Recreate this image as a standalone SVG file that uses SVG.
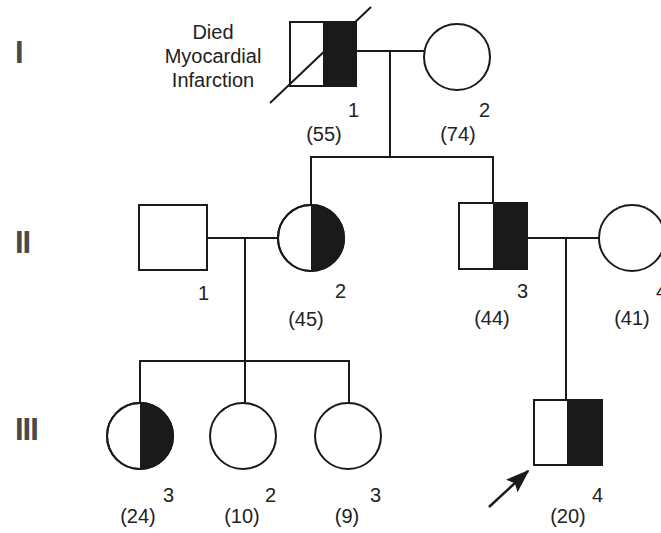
<svg xmlns="http://www.w3.org/2000/svg" width="661" height="533" viewBox="0 0 661 533">
<style>
.s{fill:#fff;stroke:#1a1a1a;stroke-width:2}
.f{fill:#1a1a1a;stroke:none}
.o{fill:none;stroke:#1a1a1a;stroke-width:2}
.l{fill:none;stroke:#1a1a1a;stroke-width:2}
text{font-family:"Liberation Sans",Arial,sans-serif;font-size:20px;fill:#222}
.r{font-size:31px;font-weight:bold;fill:#4a4a4a;letter-spacing:-1px}
.n{text-anchor:end}
.p{text-anchor:middle}
</style>
<defs>
<marker id="ah" markerWidth="24" markerHeight="17" refX="22" refY="8.5" orient="auto" markerUnits="userSpaceOnUse" viewBox="0 0 24 17">
<path d="M0,0 L24,8.5 L0,17 L4,8.5 Z" fill="#1a1a1a"/>
</marker>
</defs>
<rect width="661" height="533" fill="#fff"/>
<g id="gen-labels">
<text class="r" x="15" y="63">I</text>
<text class="r" x="15" y="253">II</text>
<text class="r" x="15" y="440">III</text>
</g>
<g id="connectors">
<line class="l" x1="356" y1="51" x2="424" y2="51"/>
<line class="l" x1="390" y1="51" x2="390" y2="157"/>
<line class="l" x1="311" y1="157" x2="493" y2="157"/>
<line class="l" x1="311" y1="156" x2="311" y2="205"/>
<line class="l" x1="493" y1="156" x2="493" y2="203"/>
<line class="l" x1="207" y1="238" x2="278" y2="238"/>
<line class="l" x1="245" y1="238" x2="245" y2="361"/>
<line class="l" x1="140" y1="361" x2="349" y2="361"/>
<line class="l" x1="140" y1="360" x2="140" y2="403"/>
<line class="l" x1="245" y1="360" x2="245" y2="403"/>
<line class="l" x1="349" y1="360" x2="349" y2="403"/>
<line class="l" x1="527" y1="238" x2="599" y2="238"/>
<line class="l" x1="566" y1="238" x2="566" y2="400"/>
</g>
<g id="I-1">
<rect class="s" x="290" y="22" width="66" height="64"/>
<rect class="f" x="323" y="22" width="33" height="64"/>
<rect class="o" x="290" y="22" width="66" height="64"/>
<line class="l" x1="270" y1="103" x2="371" y2="7"/>
<text x="213" y="39" class="p">Died</text>
<text x="213" y="63" class="p">Myocardial</text>
<text x="213" y="87" class="p">Infarction</text>
<text class="n" x="359" y="117">1</text>
<text class="p" x="324" y="141">(55)</text>
</g>
<g id="I-2">
<circle class="s" cx="457" cy="57" r="33"/>
<text class="n" x="490" y="117">2</text>
<text class="p" x="458" y="141">(74)</text>
</g>
<g id="II-1">
<rect class="s" x="139" y="205" width="68" height="65"/>
<text class="n" x="209" y="300">1</text>
</g>
<g id="II-2">
<circle class="s" cx="311" cy="238" r="33"/>
<path class="f" d="M311,205 A33,33 0 0 1 311,271 Z"/>
<circle class="o" cx="311" cy="238" r="33"/>
<text class="n" x="346" y="298">2</text>
<text class="p" x="306" y="326">(45)</text>
</g>
<g id="II-3">
<rect class="s" x="459" y="203" width="68" height="66"/>
<rect class="f" x="493" y="203" width="34" height="66"/>
<rect class="o" x="459" y="203" width="68" height="66"/>
<text class="n" x="528" y="298">3</text>
<text class="p" x="492" y="325">(44)</text>
</g>
<g id="II-4">
<circle class="s" cx="632" cy="238" r="33"/>
<text class="n" x="667" y="298">4</text>
<text class="p" x="632" y="325">(41)</text>
</g>
<g id="III-3a">
<circle class="s" cx="140" cy="436" r="33"/>
<path class="f" d="M140,403 A33,33 0 0 1 140,469 Z"/>
<circle class="o" cx="140" cy="436" r="33"/>
<text class="n" x="174" y="502">3</text>
<text class="p" x="138" y="523">(24)</text>
</g>
<g id="III-2">
<circle class="s" cx="243" cy="436" r="33"/>
<text class="n" x="276" y="502">2</text>
<text class="p" x="242" y="523">(10)</text>
</g>
<g id="III-3b">
<circle class="s" cx="348" cy="436" r="33"/>
<text class="n" x="381" y="502">3</text>
<text class="p" x="347" y="523">(9)</text>
</g>
<g id="III-4">
<rect class="s" x="534" y="400" width="68" height="65"/>
<rect class="f" x="567" y="400" width="35" height="65"/>
<rect class="o" x="534" y="400" width="68" height="65"/>
<text class="n" x="603" y="502">4</text>
<text class="p" x="568" y="523">(20)</text>
<line class="l" x1="489" y1="507" x2="528" y2="471" marker-end="url(#ah)" style="stroke-width:2.5"/>
</g>
</svg>
